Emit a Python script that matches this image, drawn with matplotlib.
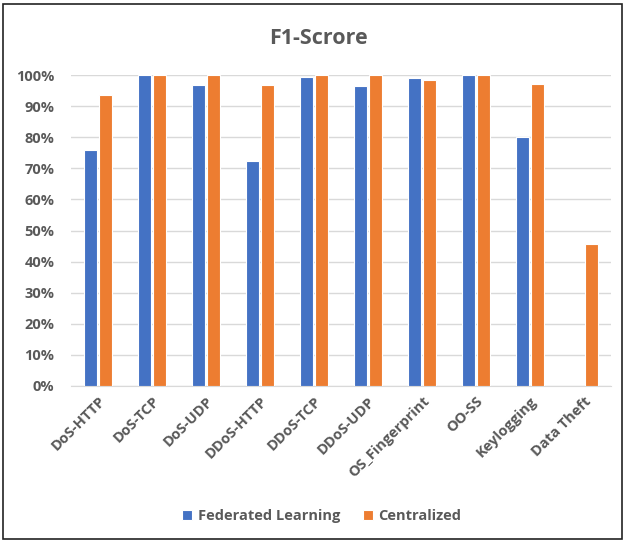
import numpy as np
import matplotlib.pyplot as plt
from matplotlib.patches import Rectangle
from matplotlib.ticker import PercentFormatter

categories = ['DoS-HTTP', 'DoS-TCP', 'DoS-UDP', 'DDoS-HTTP', 'DDoS-TCP',
              'DDoS-UDP', 'OS_Fingerprint', 'OO-SS', 'Keylogging', 'Data Theft']
federated = [76.0, 100.0, 97.0, 72.5, 99.4, 96.6, 99.0, 100.0, 80.0, 0.0]
centralized = [93.6, 100.0, 100.0, 97.0, 100.0, 100.0, 98.6, 100.0, 97.1, 45.7]

plt.rcParams['font.family'] = ['Open Sans', 'DejaVu Sans']
grey = '#595959'

fig = plt.figure(figsize=(6.25, 5.43), dpi=100)
ax = fig.add_axes([0.1136, 0.2897, 0.864, 0.5716])

x = np.arange(len(categories))
w = 0.25
ax.bar(x - w / 2 - 0.01, federated, w, color='#4472C4', edgecolor='white',
       linewidth=0.8, label='Federated Learning', zorder=3)
ax.bar(x + w / 2 + 0.01, centralized, w, color='#ED7D31', edgecolor='white',
       linewidth=0.8, label='Centralized', zorder=3)

ax.set_xlim(-0.5, len(categories) - 0.5)
ax.set_ylim(0, 100)
ax.set_yticks(np.arange(0, 101, 10))
ax.yaxis.set_major_formatter(PercentFormatter(decimals=0))
ax.grid(axis='y', color='#d9d9d9', linewidth=1, zorder=0)
for s in ['top', 'right', 'left']:
    ax.spines[s].set_visible(False)
ax.spines['bottom'].set_color('#d9d9d9')
ax.tick_params(axis='both', length=0, colors=grey, labelsize=10.5)
ax.tick_params(axis='y', pad=12)
ax.tick_params(axis='x', pad=6)
ax.set_xticks(x)
ax.set_xticklabels(categories, rotation=45, ha='right', rotation_mode='anchor',
                   fontweight='bold')
for t in ax.get_yticklabels():
    t.set_fontweight('bold')

fig.text(0.509, 0.93, 'F1-Scrore', ha='center', va='center', fontsize=15.5,
         fontweight='bold', color=grey)

fig.legend(loc='center', bbox_to_anchor=(0.515, 0.049), ncol=2, frameon=False,
           handlelength=0.7, handleheight=0.7, columnspacing=1.5, handletextpad=0.4,
           prop={'size': 10.5, 'weight': 'bold'}, labelcolor=grey)

fig.patches.append(Rectangle((0.005, 0.007), 0.99, 0.985, transform=fig.transFigure,
                             fill=False, edgecolor='#222222', linewidth=1.2))

fig.savefig('out.png', dpi=100)
